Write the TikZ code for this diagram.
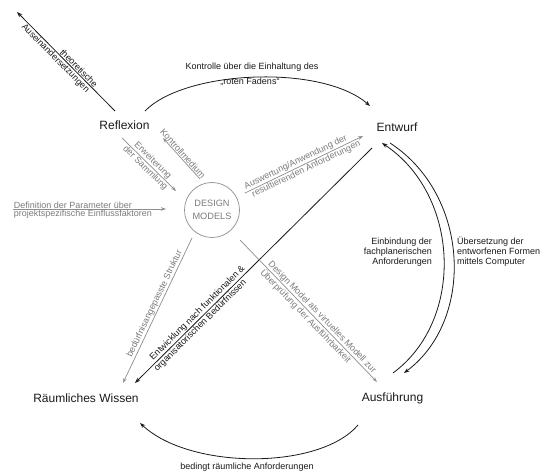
\documentclass[tikz,border=0pt]{standalone}
\usepackage{fontspec}
\setmainfont{Liberation Sans}
\usetikzlibrary{arrows.meta,calc}
\definecolor{gline}{HTML}{8E8E8E}
\definecolor{gtext}{HTML}{7C7C7C}
\definecolor{ink}{HTML}{1A1A1A}
\begin{document}
\begin{tikzpicture}[x=1pt,y=1pt,
  main/.style={font=\fontsize{12}{14}\selectfont, inner sep=0pt, text=ink},
  lbl/.style={font=\fontsize{9}{10}\selectfont, inner sep=0.8pt, text=ink},
  glbl/.style={lbl, text=gtext},
  blk/.style={draw=ink, line width=0.8pt, -{Stealth[length=5.5pt,width=4pt]}},
  blkr/.style={draw=ink, line width=0.8pt, {Stealth[length=5.5pt,width=4pt]}-},
  gry/.style={draw=gline, line width=0.7pt, -{Stealth[length=5pt,width=3.5pt]}},
  gryr/.style={draw=gline, line width=0.7pt, {Stealth[length=5pt,width=3.5pt]}-},
]
\path[use as bounding box, fill=white] (0,0) rectangle (544,-473);

% main nodes
\node[main] (refl) at (124.5,-125) {Reflexion};
\node[main] (entw) at (397,-127) {Entwurf};
\node[main] (raum) at (86,-398) {Räumliches Wissen};
\node[main] (ausf) at (392.5,-398) {Ausführung};
\node[draw=gline, line width=0.7pt, circle, minimum size=55pt, inner sep=0pt,
      align=center, text=gtext, font=\fontsize{9.2}{13}\selectfont] (dm) at (212,-210) {DESIGN\\MODELS};

% endpoints
\coordinate (tA) at (17,-12);   \coordinate (rA) at (115,-111);
\coordinate (rB) at (145,-111); \coordinate (eB) at (370,-106);
\coordinate (eC) at (382,-143); \coordinate (aC) at (393,-373);
\coordinate (eD) at (390,-143); \coordinate (aD) at (404,-373);
\coordinate (aE) at (358,-425); \coordinate (rE) at (140,-423);
\coordinate (rF) at (135,-383); \coordinate (eF) at (372,-148);
\coordinate (rG) at (163,-138); \coordinate (dG) at (200,-179);
\coordinate (rH) at (122,-138); \coordinate (dH) at (176,-191);
\coordinate (lI) at (13,-209);  \coordinate (dI) at (166,-209);
\coordinate (dJ) at (245,-193); \coordinate (eJ) at (363,-136);
\coordinate (rK) at (123,-383); \coordinate (dK) at (192,-238);
\coordinate (dL) at (240,-240); \coordinate (aL) at (377,-382);

% black connectors
\draw[blkr] (tA) -- node[lbl, sloped, above, pos=0.6] (l1) {theoretische}
                    node[lbl, sloped, below, pos=0.43] (l2) {Auseinandersetzungen} (rA);
\draw[blk] (rB) .. controls (185,-70) and (322,-64) .. (eB);
\node[lbl] (l3) at (252,-67.3) {Kontrolle über die Einhaltung des};
\node[lbl] (l4) at (250,-81.7) {„roten Fadens“};
\draw[blkr] (eC) .. controls (460,-195) and (465,-320) .. (aC);
\draw[blk] (eD) .. controls (470,-195) and (475,-320) .. (aD);
\node[lbl, align=right, anchor=east] (l5) at (433,-252) {Einbindung der\\fachplanerischen\\Anforderungen};
\node[lbl, align=left, anchor=west] (l6) at (456,-252) {Übersetzung der\\entworfenen Formen\\mittels Computer};
\draw[blk] (aE) .. controls (320,-470) and (190,-470) .. (rE);
\node[lbl] (l7) at (247,-467) {bedingt räumliche Anforderungen};
\draw[blkr] (rF) -- node[lbl, sloped, above, pos=0.28] (l8) {Entwicklung nach funktionalen \&}
                    node[lbl, sloped, below, pos=0.26] (l9) {organisatorischen Bedürfnissen} (eF);

% gray connectors
\draw[gryr] (rG) -- node[glbl, sloped, above, pos=0.45] (g1) {Kontrollmedium} (dG);
\draw[gry] (rH) -- node[glbl, sloped, above, pos=0.5] (g2) {Erweiterung}
                   node[glbl, sloped, below, pos=0.5] (g3) {der Sammlung} (dH);
\draw[gry] (lI) -- (dI)
   node[glbl, at start, anchor=south west, inner sep=0.5pt] (g4) {Definition der Parameter über}
   node[glbl, at start, anchor=north west, inner sep=0.5pt] (g5) {projektspezifische Einflussfaktoren};
\draw[gry] (dJ) -- node[glbl, sloped, above, pos=0.45] (g6) {Auswertung/Anwendung der}
                   node[glbl, sloped, below, pos=0.5] (g7) {resultierenden Anforderungen} (eJ);
\draw[gryr] (rK) -- node[glbl, sloped, above, pos=0.53] (g8) {bedürfnisangepasste Struktur} (dK);
\draw[gry] (dL) -- node[glbl, sloped, above, pos=0.57] (g9) {Design Model als virtuelles Modell zur}
                   node[glbl, sloped, below, pos=0.51] (g10) {Überprüfung der Ausführbarkeit} (aL);
\end{tikzpicture}
\end{document}
